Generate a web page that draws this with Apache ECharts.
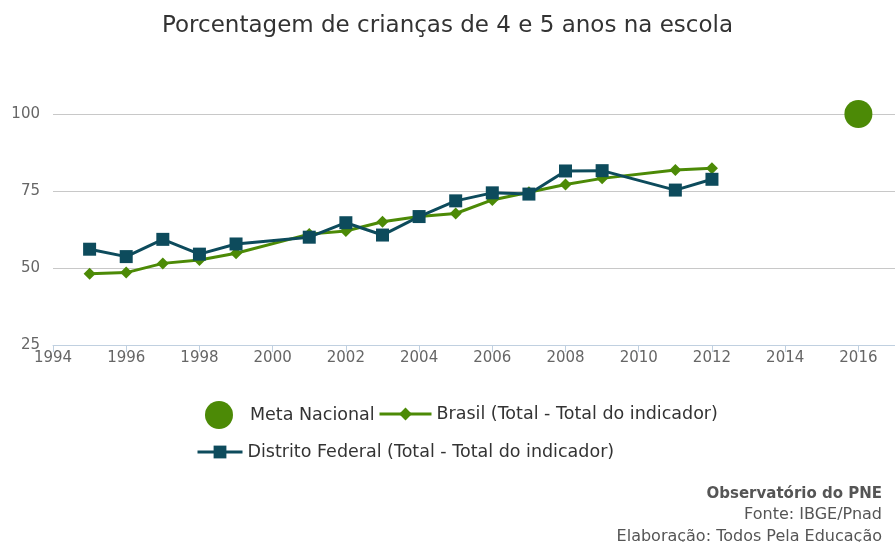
<!DOCTYPE html>
<html>
<head>
<meta charset="utf-8">
<script src="https://cdn.jsdelivr.net/npm/echarts@6/dist/echarts.min.js"></script>
<style>
  html, body { margin: 0; padding: 0; background: #fff; }
  #chart { width: 895px; height: 542px; }
</style>
</head>
<body>
<div id="chart"></div>
<script>
// data
const years = [1995, 1996, 1997, 1998, 1999, 2001, 2002, 2003, 2004, 2005, 2006, 2007, 2008, 2009, 2011, 2012]
const brasil = [48.1, 48.5, 51.5, 52.6, 54.8, 61.0, 62.0, 65.0, 66.7, 67.7, 72.1, 74.6, 77.1, 79.1, 81.8, 82.4]
const distritoFederal = [56.1, 53.7, 59.3, 54.5, 57.8, 60.0, 64.7, 60.7, 66.7, 71.8, 74.4, 74.0, 81.5, 81.6, 75.3, 78.8]
const metaYear = [2016]
const metaValue = [100]
const yTicks = [25, 50, 75, 100]

const GREEN = '#4c8a06'
const TEAL = '#0d4b5c'
const FONT = '"DejaVu Sans", sans-serif'

const pairs = (xs, ys) => xs.map((x, i) => [x, ys[i]])

const chart = echarts.init(document.getElementById('chart'))

const legendText = { color: '#333', fontSize: 17.5, fontFamily: FONT }

const option = {
  animation: false,
  textStyle: { fontFamily: FONT },
  title: {
    text: 'Porcentagem de crianças de 4 e 5 anos na escola',
    left: 'center',
    top: 10,
    textStyle: { color: '#333', fontSize: 23, fontWeight: 'normal', fontFamily: FONT }
  },
  grid: { left: 53, right: 0, top: 114, bottom: 197 },
  legend: [
    {
      data: [{ name: 'Meta Nacional', icon: 'circle' }],
      left: 200, top: 396,
      itemWidth: 28, itemHeight: 28,
      textStyle: Object.assign({ padding: [0, 0, 0, 12] }, legendText)
    },
    {
      data: ['Brasil (Total - Total do indicador)'],
      left: 373, top: 400,
      itemWidth: 52, itemHeight: 16,
      lineStyle: { width: 3 },
      textStyle: legendText
    },
    {
      data: ['Distrito Federal (Total - Total do indicador)'],
      left: 191, top: 438,
      itemWidth: 45, itemHeight: 16,
      lineStyle: { width: 3 },
      textStyle: legendText
    }
  ],
  xAxis: {
    type: 'value',
    min: 1994,
    max: 2017,
    interval: 2,
    axisLine: { show: true, lineStyle: { color: '#c0d0e0', width: 1 } },
    axisTick: { show: true, length: 7, lineStyle: { color: '#c0d0e0' } },
    axisLabel: {
      color: '#666', fontSize: 15, fontFamily: FONT, margin: 6,
      showMaxLabel: false,
      formatter: v => String(v)
    },
    splitLine: { show: false }
  },
  yAxis: {
    type: 'value',
    min: yTicks[0],
    max: yTicks[yTicks.length - 1],
    interval: 25,
    axisLine: { show: false },
    axisTick: { show: false },
    axisLabel: { color: '#666', fontSize: 15, fontFamily: FONT, margin: 13 },
    splitLine: { show: true, showMinLine: false, lineStyle: { color: '#c8c8c8', width: 1 } }
  },
  series: [
    {
      name: 'Meta Nacional',
      type: 'scatter',
      data: pairs(metaYear, metaValue),
      symbol: 'circle',
      symbolSize: 28,
      itemStyle: { color: GREEN, opacity: 1 }
    },
    {
      name: 'Brasil (Total - Total do indicador)',
      type: 'line',
      data: pairs(years, brasil),
      symbol: 'diamond',
      symbolSize: 12,
      showAllSymbol: true,
      lineStyle: { color: GREEN, width: 3 },
      itemStyle: { color: GREEN }
    },
    {
      name: 'Distrito Federal (Total - Total do indicador)',
      type: 'line',
      data: pairs(years, distritoFederal),
      symbol: 'rect',
      symbolSize: 13,
      showAllSymbol: true,
      lineStyle: { color: TEAL, width: 3 },
      itemStyle: { color: TEAL }
    }
  ],
  graphic: [
    {
      type: 'text', right: 13, top: 487,
      style: { text: 'Observatório do PNE', fill: '#555', fontSize: 15, fontWeight: 'bold', fontFamily: FONT }
    },
    {
      type: 'text', right: 13, top: 507,
      style: { text: 'Fonte: IBGE/Pnad', fill: '#555', fontSize: 16, fontFamily: FONT }
    },
    {
      type: 'text', right: 13, top: 529,
      style: { text: 'Elaboração: Todos Pela Educação', fill: '#555', fontSize: 16, fontFamily: FONT }
    }
  ]
}

chart.setOption(option)
</script>
</body>
</html>
